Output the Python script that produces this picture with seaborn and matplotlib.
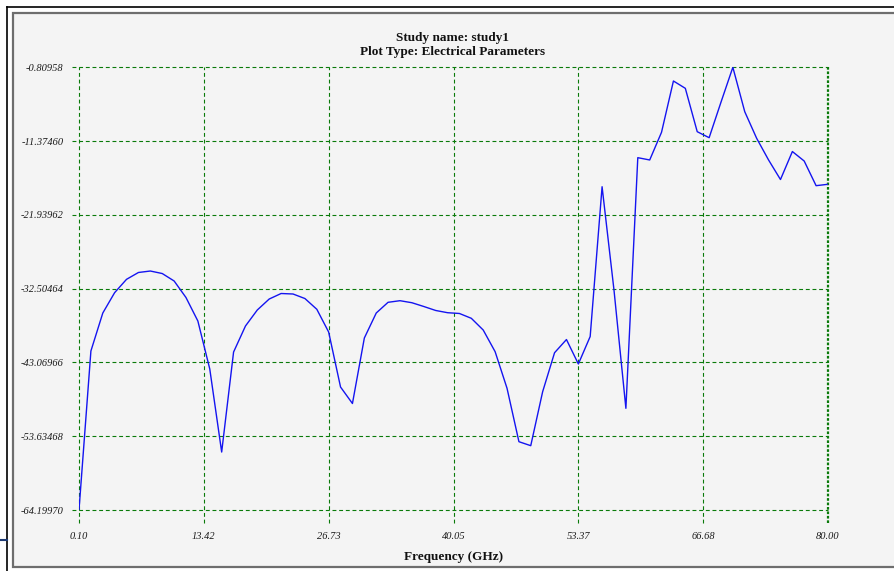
import matplotlib
matplotlib.use("Agg")
import matplotlib.pyplot as plt
from matplotlib.patches import Rectangle
from matplotlib.lines import Line2D
import seaborn as sns
import pandas as pd

# Swept response: frequency (GHz) and parameter value (dB)
freq_ghz = [0.10, 1.37, 2.64, 3.90, 5.17, 6.44, 7.71, 8.98, 10.25, 11.51,
            12.78, 14.05, 15.32, 16.59, 17.86, 19.12, 20.39, 21.66, 22.93, 24.20,
            25.47, 26.73, 28.00, 29.27, 30.54, 31.81, 33.07, 34.34, 35.61, 36.88,
            38.15, 39.42, 40.68, 41.95, 43.22, 44.49, 45.76, 47.03, 48.29, 49.56,
            50.83, 52.10, 53.37, 54.63, 55.90, 57.17, 58.44, 59.71, 60.98, 62.24,
            63.51, 64.78, 66.05, 67.32, 68.59, 69.85, 71.12, 72.39, 73.66, 74.93,
            76.20, 77.46, 78.73, 80.00]
value_db = [-64.19970, -41.43, -35.99, -33.08, -31.17, -30.19, -29.98, -30.34, -31.41, -33.77,
            -37.14, -44.01, -55.90, -41.58, -37.85, -35.56, -33.99, -33.20, -33.27, -33.92,
            -35.46, -38.71, -46.59, -48.95, -39.57, -35.99, -34.46, -34.23, -34.52, -35.06,
            -35.63, -35.95, -36.06, -36.75, -38.43, -41.53, -46.77, -54.42, -54.99, -47.26,
            -41.68, -39.79, -43.29, -39.36, -17.91, -32.70, -49.64, -13.75, -14.08, -10.12,
            -2.77, -3.82, -10.03, -10.89, -5.78, -0.80958, -7.17, -10.98, -14.08, -16.88,
            -12.87, -14.23, -17.76, -17.56]

x_ticks = [0.10, 13.42, 26.73, 40.05, 53.37, 66.68, 80.00]
x_tick_labels = ["0.10", "13.42", "26.73", "40.05", "53.37", "66.68", "80.00"]
y_ticks = [-0.80958, -11.37460, -21.93962, -32.50464, -43.06966, -53.63468, -64.19970]
y_tick_labels = ["-0.80958", "-11.37460", "-21.93962", "-32.50464",
                 "-43.06966", "-53.63468", "-64.19970"]

title_lines = ["Study name: study1", "Plot Type: Electrical Parameters"]
x_label = "Frequency (GHz)"

W, H = 894, 571
fig = plt.figure(figsize=(W / 100, H / 100), dpi=100)
fig.patch.set_facecolor("white")

# window panel with outer black edge and inner grey bevel
fig.add_artist(Line2D([6.5 / W, 6.5 / W], [0, 1 - 6.5 / H], transform=fig.transFigure,
                      color="black", lw=1.2, zorder=-5))
fig.add_artist(Line2D([6.5 / W, 1], [1 - 6.5 / H, 1 - 6.5 / H], transform=fig.transFigure,
                      color="black", lw=1.2, zorder=-5))
fig.add_artist(Rectangle((12.5 / W, 1 - 567 / H), 1, (567 - 12.5) / H,
                         transform=fig.transFigure, facecolor="#f4f4f4",
                         edgecolor="#6e6e6e", lw=1.6, zorder=-8))
fig.add_artist(Line2D([0, 7 / W], [1 - 540 / H, 1 - 540 / H], transform=fig.transFigure,
                      color="#1f3b73", lw=1.5, zorder=-5))

ax = fig.add_axes([79 / W, 1 - 510 / H, (828 - 79) / W, (510 - 67.3) / H])
ax.patch.set_alpha(0)

df = pd.DataFrame({"freq": freq_ghz, "val": value_db})
sns.lineplot(data=df, x="freq", y="val", ax=ax, color="#1414f0", lw=1.0,
             estimator=None, sort=False, zorder=5)

ax.set_xlim(x_ticks[0], x_ticks[-1])
ax.set_ylim(y_ticks[-1], y_ticks[0])
for s in ax.spines.values():
    s.set_visible(False)

grid_col = "#0a7a0a"
dash = (0, (3.5, 2.5))
for yv in y_ticks:
    ax.axhline(yv, xmin=-0.0095, xmax=1.0, color=grid_col, lw=0.8,
               ls=dash, clip_on=False, zorder=2, snap=True)
for xv in x_ticks[:-1]:
    ax.axvline(xv, ymin=-0.03, ymax=1.0, color=grid_col, lw=0.8,
               ls=dash, clip_on=False, zorder=2, snap=True)
ax.axvline(x_ticks[-1], ymin=-0.03, ymax=1.0, color=grid_col, lw=1.6,
           ls=(0, (1.2, 0.8)), clip_on=False, zorder=2, snap=True)

tick_font = dict(family="Liberation Serif", style="italic", size=7.5)
ax.set_xticks(x_ticks)
ax.set_xticklabels(x_tick_labels, **tick_font)
ax.set_yticks(y_ticks)
ax.set_yticklabels(y_tick_labels, **tick_font)
ax.tick_params(axis="both", length=0, colors="#1a1a1a")
ax.tick_params(axis="x", pad=16)
ax.tick_params(axis="y", pad=11)
ax.set_xlabel(x_label, family="Liberation Serif", weight="bold", size=9.5,
              labelpad=7, color="#111111")
ax.set_ylabel("")

fig.text(453 / W, 1 - 38 / H, title_lines[0], ha="center", va="center",
         family="Liberation Serif", weight="bold", size=9.5, color="#111111")
fig.text(453 / W, 1 - 52.5 / H, title_lines[1], ha="center", va="center",
         family="Liberation Serif", weight="bold", size=9.5, color="#111111")

fig.savefig("out.png", dpi=100, facecolor=fig.get_facecolor())
